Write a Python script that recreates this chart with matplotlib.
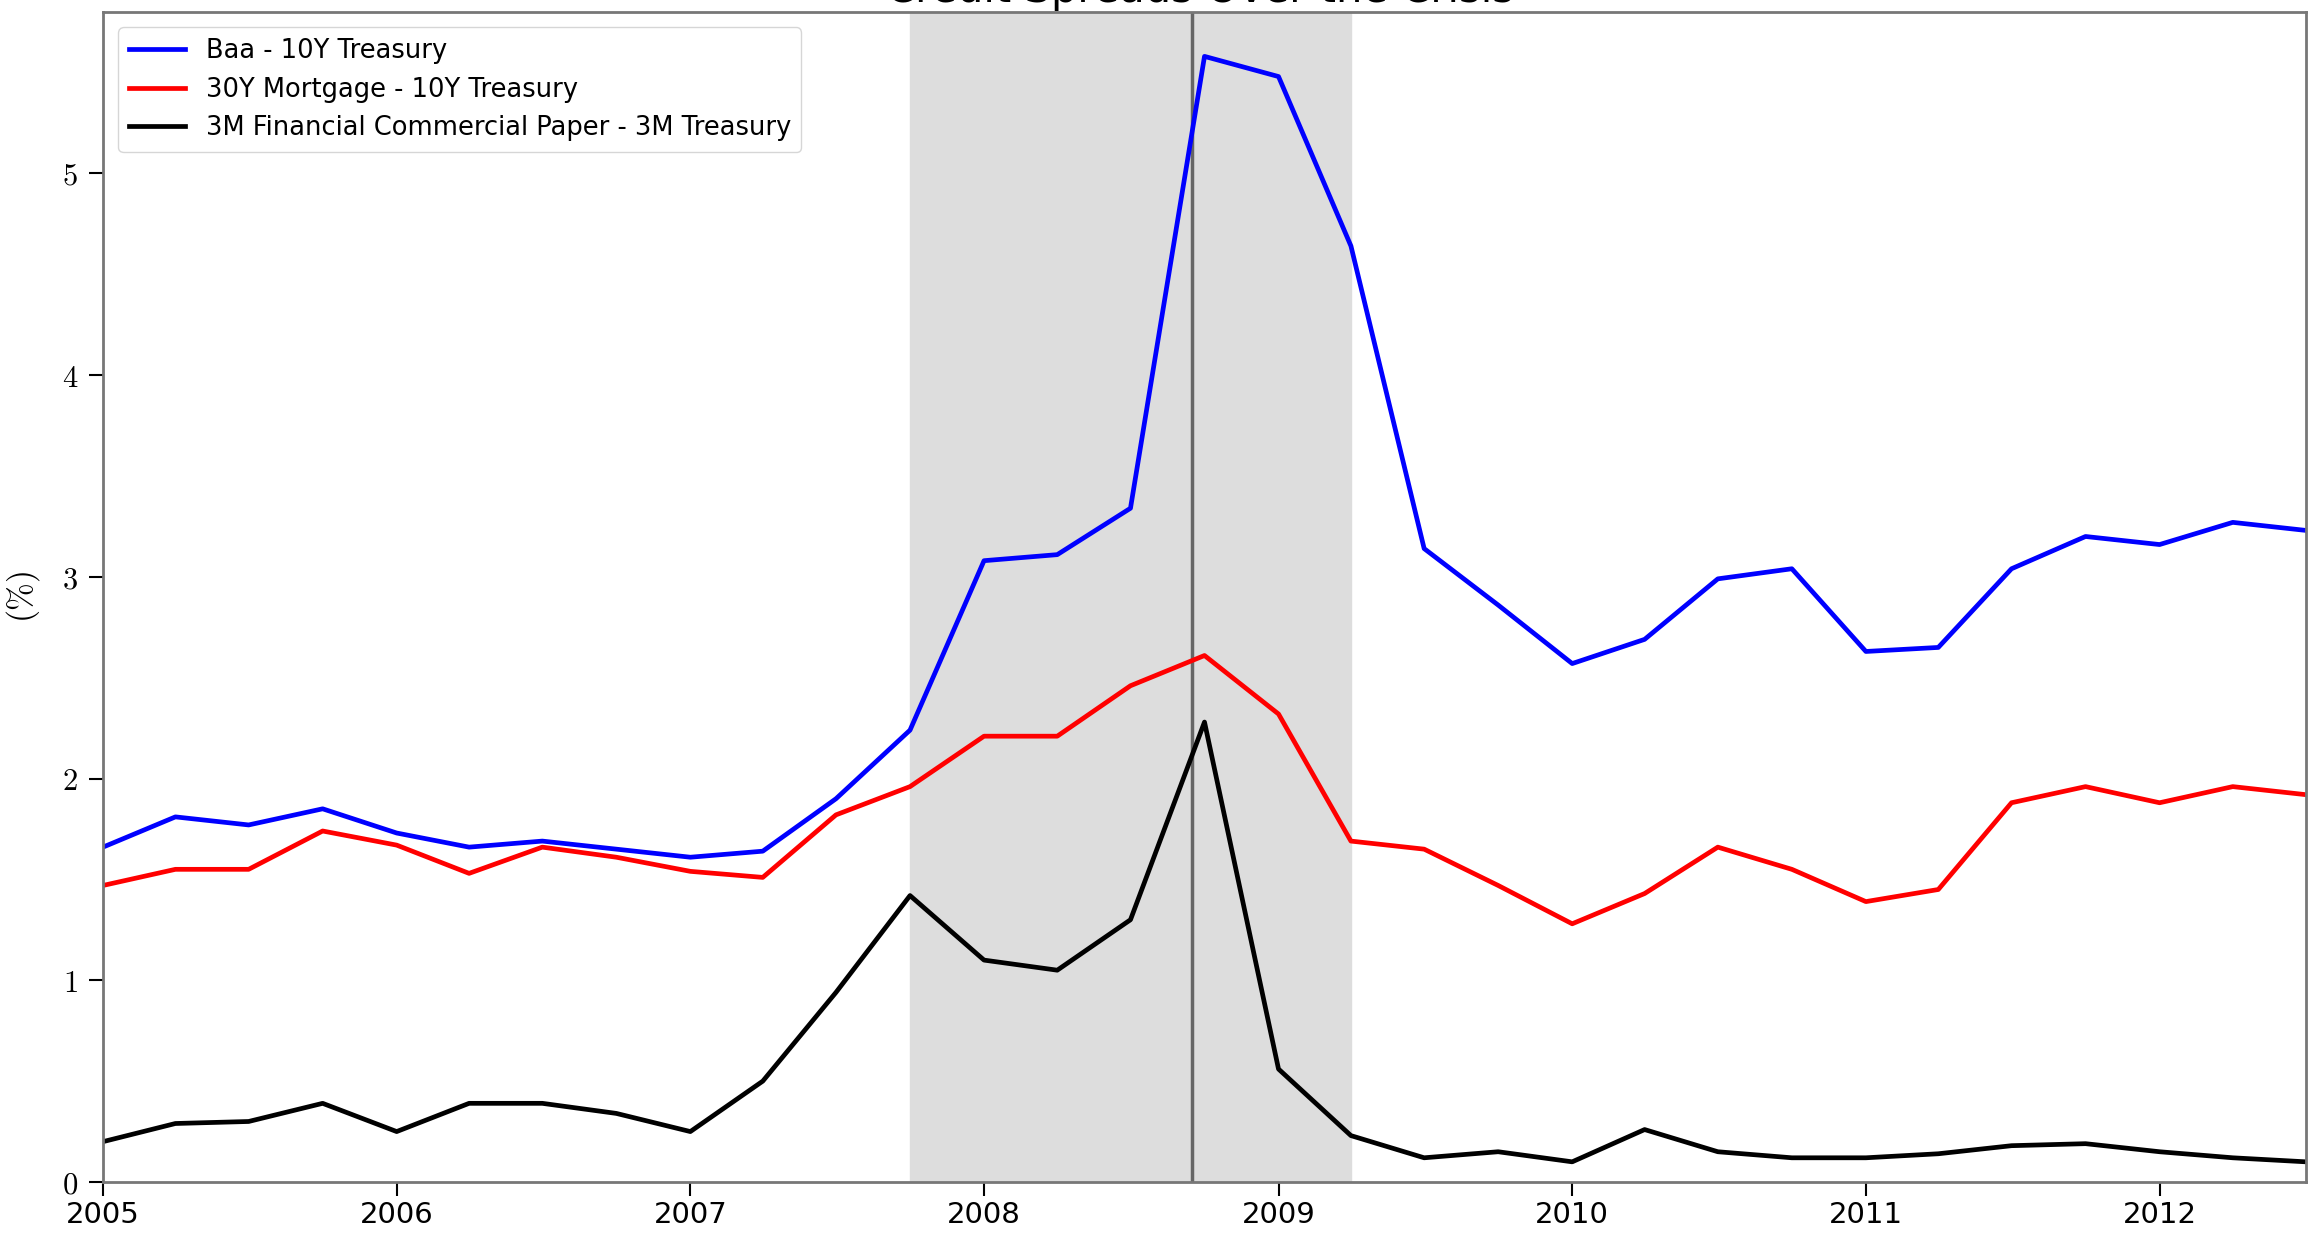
import matplotlib
matplotlib.use('Agg')
import matplotlib.pyplot as plt
import matplotlib.dates as mdates
from matplotlib.ticker import FuncFormatter
import pandas as pd

plt.rcParams['mathtext.fontset'] = 'cm'
plt.rcParams['font.family'] = ['DejaVu Sans']

# quarterly observations, 2005Q1 - 2012Q3
dates = pd.date_range('2005-01-01', periods=31, freq='QS')

baa_10y = [1.66, 1.81, 1.77, 1.85, 1.73, 1.66, 1.69, 1.65, 1.61, 1.64,
           1.90, 2.24, 3.08, 3.11, 3.34, 5.58, 5.48, 4.64, 3.14, 2.86,
           2.57, 2.69, 2.99, 3.04, 2.63, 2.65, 3.04, 3.20, 3.16, 3.27, 3.23]
mort_10y = [1.47, 1.55, 1.55, 1.74, 1.67, 1.53, 1.66, 1.61, 1.54, 1.51,
            1.82, 1.96, 2.21, 2.21, 2.46, 2.61, 2.32, 1.69, 1.65, 1.47,
            1.28, 1.43, 1.66, 1.55, 1.39, 1.45, 1.88, 1.96, 1.88, 1.96, 1.92]
cp_3m = [0.20, 0.29, 0.30, 0.39, 0.25, 0.39, 0.39, 0.34, 0.25, 0.50,
         0.94, 1.42, 1.10, 1.05, 1.30, 2.28, 0.56, 0.23, 0.12, 0.15,
         0.10, 0.26, 0.15, 0.12, 0.12, 0.14, 0.18, 0.19, 0.15, 0.12, 0.10]

recession = ('2007-10-01', '2009-04-01')
lehman = '2008-09-15'

fig = plt.figure(figsize=(23.08, 12.34), dpi=100)
ax = fig.add_axes([103 / 2308, 52 / 1234, 2203 / 2308, 1170 / 1234])

ax.axvspan(pd.Timestamp(recession[0]), pd.Timestamp(recession[1]),
           color='#dddddd', zorder=0)
ax.axvline(pd.Timestamp(lehman), color='#666666', linewidth=2.5, zorder=1)

ax.plot(dates, baa_10y, color='blue', linewidth=3.4, label='Baa - 10Y Treasury')
ax.plot(dates, mort_10y, color='red', linewidth=3.4, label='30Y Mortgage - 10Y Treasury')
ax.plot(dates, cp_3m, color='black', linewidth=3.4,
        label='3M Financial Commercial Paper - 3M Treasury')

ax.set_xlim(dates[0], dates[-1])
ax.set_ylim(0, 5.8)
ax.xaxis.set_major_locator(mdates.YearLocator())
ax.xaxis.set_major_formatter(mdates.DateFormatter('%Y'))
ax.yaxis.set_major_formatter(FuncFormatter(lambda v, p: f'${v:g}$'))
ax.tick_params(axis='x', labelsize=21, length=10, width=1.5, pad=4)
ax.tick_params(axis='y', labelsize=22, length=10, width=1.5, pad=8)
for s in ax.spines.values():
    s.set_color('#777777')
    s.set_linewidth(2)

ax.set_ylabel(r'$(\%)$', fontsize=24, labelpad=14)

leg = ax.legend(loc='upper left', fontsize=18.5, frameon=True, handlelength=2.2,
                borderaxespad=0.6, labelspacing=0.5)
leg.get_frame().set_edgecolor('#cccccc')

fig.text(0.52, 1 - 2 / 1234, 'Credit Spreads Over the Crisis', fontsize=30,
         ha='center', va='baseline')

fig.savefig('out.png', dpi=100)
